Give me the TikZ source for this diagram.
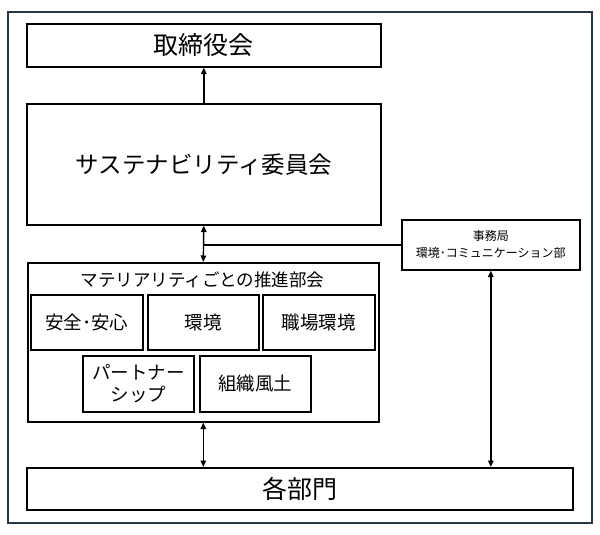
\documentclass[tikz,border=0pt]{standalone}
\usepackage{fontspec}
\setmainfont{Noto Sans CJK JP}
\usetikzlibrary{arrows.meta}
\tikzset{
  box/.style={draw=black, line width=1.6pt, fill=white, inner sep=0pt, anchor=north west, align=center},
  conn/.style={line width=1.4pt, draw=black},
  tip/.style={-{Triangle[length=6.5pt,width=5.5pt]}},
  dtip/.style={{Triangle[length=6.5pt,width=5.5pt]}-{Triangle[length=6.5pt,width=5.5pt]}},
  fbig/.style={font=\fontsize{25}{29}\selectfont},
  fmid/.style={font=\fontsize{23.5}{27}\selectfont},
  ftitle/.style={font=\fontsize{17.5}{22}\selectfont},
  fsub/.style={font=\fontsize{18.5}{22}\selectfont},
  fsmall/.style={font=\fontsize{12}{17}\selectfont},
}
\begin{document}
\begin{tikzpicture}[x=1pt,y=-1pt]
\useasboundingbox (0,0) rectangle (600,535);
\draw[line width=1.3pt, draw={rgb,255:red,38;green,55;blue,72}] (8,12) rectangle (592,523);
\node[box, fbig, minimum width=354pt, minimum height=43pt] (board) at (26,23) {取締役会};
\node[box, fmid, minimum width=354pt, minimum height=121pt] (sustain) at (26,103) {サステナビリティ委員会};
\node[box, minimum width=351pt, minimum height=159pt] (mat) at (27,262) {};
\node[ftitle, inner sep=0pt] (mattitle) at (202.5,280) {マテリアリティごとの推進部会};
\node[box, fsub, minimum width=112pt, minimum height=55pt] (s1) at (30,294) {安全･安心};
\node[box, fsub, minimum width=111pt, minimum height=55pt] (s2) at (147,294) {環境};
\node[box, fsub, minimum width=112pt, minimum height=55pt] (s3) at (262,294) {職場環境};
\node[box, fsub, minimum width=111pt, minimum height=56pt] (s4) at (82,355) {パートナー\\シップ};
\node[box, fsub, minimum width=111pt, minimum height=56pt] (s5) at (199,355) {組織風土};
\node[box, fsmall, minimum width=178pt, minimum height=50pt] (jimu) at (401,219) {事務局\\環境･コミュニケーション部};
\node[box, fbig, minimum width=546pt, minimum height=42pt] (kakubu) at (26,467) {各部門};
\draw[conn, tip] (sustain.north) -- (board.south);
\draw[conn, dtip] (sustain.south) -- (mat.north);
\draw[conn] (jimu.west) -- (jimu.west -| sustain.south);
\draw[conn, dtip] (mat.south) -- (mat.south |- kakubu.north);
\draw[conn, dtip] (jimu.south) -- (jimu.south |- kakubu.north);
\end{tikzpicture}
\end{document}
